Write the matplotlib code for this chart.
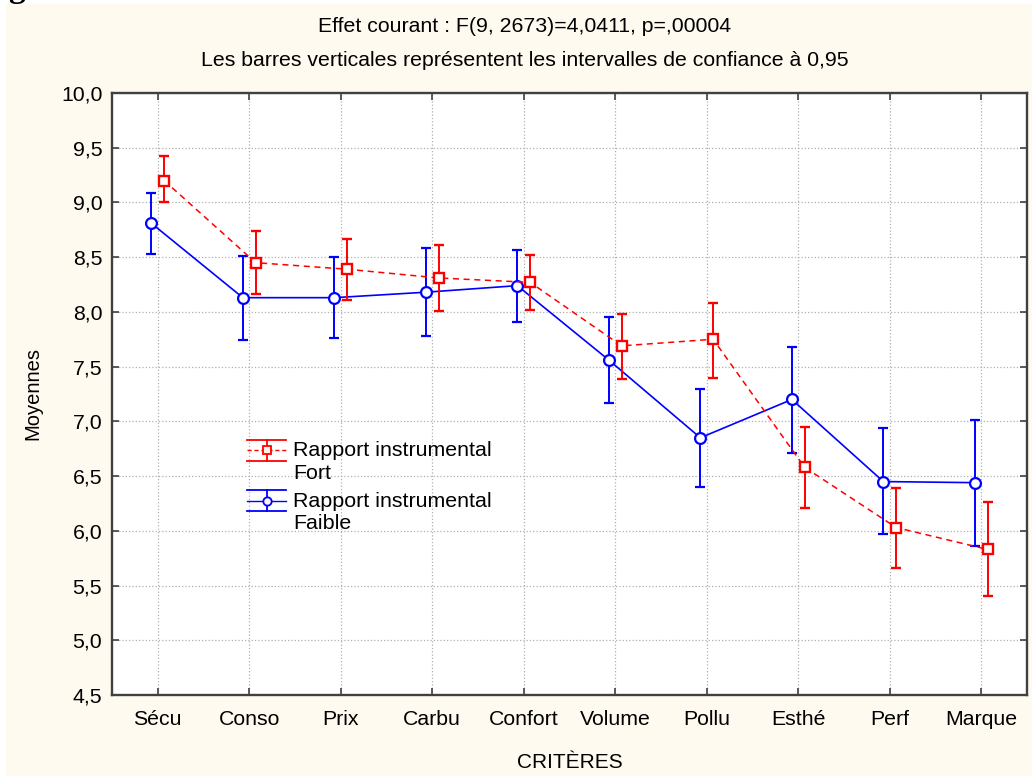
import matplotlib
matplotlib.use('Agg')
import matplotlib.pyplot as plt
import numpy as np
from matplotlib.legend_handler import HandlerBase
from matplotlib.lines import Line2D
from matplotlib.patches import Rectangle
from matplotlib.ticker import FuncFormatter

plt.rcParams['font.family'] = ['Liberation Sans', 'DejaVu Sans']

criteres = ['Sécu', 'Conso', 'Prix', 'Carbu', 'Confort', 'Volume', 'Pollu', 'Esthé', 'Perf', 'Marque']

# Rapport instrumental Fort
fort_moy = [9.20, 8.45, 8.39, 8.31, 8.27, 7.69, 7.75, 6.58, 6.03, 5.83]
fort_bas = [9.00, 8.16, 8.11, 8.01, 8.02, 7.39, 7.40, 6.21, 5.66, 5.40]
fort_haut = [9.42, 8.74, 8.67, 8.61, 8.52, 7.98, 8.08, 6.95, 6.39, 6.26]

# Rapport instrumental Faible
faible_moy = [8.81, 8.13, 8.13, 8.18, 8.24, 7.56, 6.85, 7.20, 6.45, 6.44]
faible_bas = [8.53, 7.74, 7.76, 7.78, 7.91, 7.17, 6.40, 6.71, 5.97, 5.86]
faible_haut = [9.09, 8.51, 8.50, 8.58, 8.57, 7.95, 7.30, 7.68, 6.94, 7.01]

yticks = np.arange(4.5, 10.01, 0.5)

FS_TICK = 15.3
FS_LEG = 15.4
LEG_LS = 1.24


class BarHandler(HandlerBase):
    # legend glyph: whisker lines above and below, marker in the middle
    def __init__(self, color, ls, marker):
        super().__init__()
        self.color = color
        self.ls = ls
        self.marker = marker

    def create_artists(self, legend, orig_handle, xdescent, ydescent,
                       width, height, fontsize, trans):
        x0 = -xdescent
        x1 = width - xdescent
        xm = (x0 + x1) / 2
        # align glyph with the first line of a two-line label
        ym = height / 2 - ydescent + 0.5 * LEG_LS * 0.87 * fontsize
        d = 7.5
        arts = [
            Line2D([x0, x1], [ym + d, ym + d], color=self.color, lw=1.3),
            Line2D([x0, x1], [ym - d, ym - d], color=self.color, lw=1.3),
            Line2D([x0, x1], [ym, ym], color=self.color, lw=1.0, ls=self.ls),
            Line2D([xm, xm], [ym - d, ym + d], color=self.color, lw=1.3),
            Line2D([xm], [ym], color=self.color, marker=self.marker, ms=6,
                   mfc='#fff0e8', mew=1.3),
        ]
        for a in arts:
            a.set_transform(trans)
        return arts


fig = plt.figure(figsize=(10.32, 7.76), dpi=100, facecolor='white')
fig.patches.append(Rectangle((6 / 1032, 0), 1, 1 - 4 / 776, transform=fig.transFigure,
                             facecolor='#fffaf0', edgecolor='none', zorder=-10))
fig.text(8 / 1032, 1 + 3 / 776, 'g', fontsize=24, fontweight='bold', family='Liberation Serif',
         va='baseline', ha='left')

ax = fig.add_axes([112 / 1032, 81 / 776, 915 / 1032, 602 / 776])
ax.set_facecolor('white')

x = np.arange(len(criteres))
dx = 0.07
fort_err = [np.array(fort_moy) - np.array(fort_bas), np.array(fort_haut) - np.array(fort_moy)]
faible_err = [np.array(faible_moy) - np.array(faible_bas), np.array(faible_haut) - np.array(faible_moy)]

ax.errorbar(x - dx, faible_moy, yerr=faible_err, color='#0000ff', lw=1.2, ls='-',
            marker='o', ms=7.8, mfc='white', mew=1.6, capsize=3.8, elinewidth=1.4,
            capthick=1.3, zorder=3)
ax.errorbar(x + dx, fort_moy, yerr=fort_err, color='#ff0000', lw=1.1, ls=(0, (4, 3)),
            marker='s', ms=7.4, mfc='white', mew=1.7, capsize=3.8, elinewidth=1.4,
            capthick=1.3, zorder=4)

ax.set_xlim(-0.5, 9.5)
ax.set_ylim(4.5, 10.0)
ax.set_xticks(x)
ax.set_xticklabels(criteres)
ax.set_yticks(yticks)
ax.yaxis.set_major_formatter(FuncFormatter(lambda v, p: f'{v:.1f}'.replace('.', ',')))
ax.tick_params(direction='in', length=5, width=1.2, colors='#404040', labelcolor='black',
               labelsize=FS_TICK, top=True, right=True)
ax.tick_params(axis='x', pad=11)
ax.tick_params(axis='y', pad=7)
ax.grid(True, ls=':', color='#b0b0b0', lw=0.9)
for s in ax.spines.values():
    s.set_color('#404040')
    s.set_linewidth(1.7)

ax.set_xlabel('CRITÈRES', fontsize=15, labelpad=17)
ax.set_ylabel('Moyennes', fontsize=14.5, labelpad=13)

fig.text(525 / 1032, 1 - 27 / 776, 'Effet courant : F(9, 2673)=4,0411, p=,00004',
         ha='center', va='center', fontsize=15.3)
fig.text(525 / 1032, 1 - 61 / 776,
         'Les barres verticales représentent les intervalles de confiance à 0,95',
         ha='center', va='center', fontsize=15.3)

h_fort = Line2D([], [], color='red')
h_faible = Line2D([], [], color='blue')
leg = ax.legend([h_fort, h_faible],
                ['Rapport instrumental\nFort', 'Rapport instrumental\nFaible'],
                handler_map={h_fort: BarHandler('#ff0000', (0, (3, 2)), 's'),
                             h_faible: BarHandler('#0000ff', '-', 'o')},
                loc='upper left', bbox_to_anchor=(0.148, 0.422), frameon=False,
                fontsize=FS_LEG, handlelength=1.8, handletextpad=0.33, labelspacing=0.42,
                borderaxespad=0, borderpad=0)
for t in leg.get_texts():
    t.set_linespacing(LEG_LS)

fig.savefig('out.png', dpi=100, facecolor=fig.get_facecolor())
